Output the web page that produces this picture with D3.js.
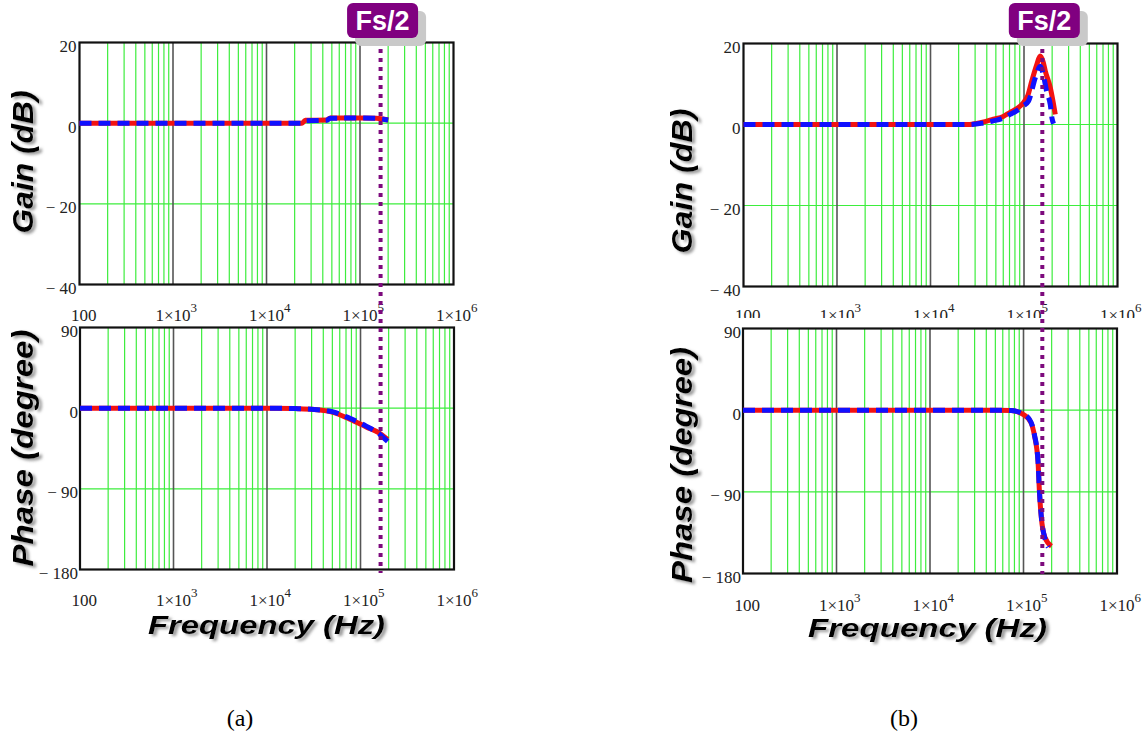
<!DOCTYPE html>
<html>
<head>
<meta charset="utf-8">
<script src="https://cdn.jsdelivr.net/npm/d3@7/dist/d3.min.js"></script>
<style>
body{margin:0;background:#fff;}
svg{display:block;}
</style>
</head>
<body>
<svg id="chart" width="1147" height="746"></svg>
<script>
// axes
const decades = [100, 1e3, 1e4, 1e5, 1e6];
const gainTicks = [20, 0, -20, -40];
const phaseTicks = [90, 0, -90, -180];

// (a) Fs/2 and responses
const fsHalfA = 1.66e5;
const gainFreqA = [100, 1e3, 1e4, 2.4e4, 2.6e4, 4.4e4, 4.8e4, 1e5, 1.5e5, 2e5];
const gainRedA = [0, 0, 0, 0, 0.7, 0.8, 1.3, 1.3, 1.2, 0.8];
const gainBlueA = [0, 0, 0, 0, 0.6, 0.7, 1.2, 1.3, 1.2, 0.8];
const phaseFreqA = [100, 1e3, 1e4, 2e4, 3.2e4, 5.1e4, 7.6e4, 1.15e5, 1.6e5, 1.95e5];
const phaseRedA = [0, 0, 0, -0.5, -1.5, -4.6, -12, -21, -28, -35];
const phaseBlueA = [0, 0, 0, -0.5, -1.5, -4.2, -11, -20, -29, -37];

// (b)
const fsHalfB = 1.57e5;
const gainFreqRedB = [100, 1e3, 1e4, 2.5e4, 3.5e4, 4.7e4, 6e4, 7.1e4, 8.5e4, 9.8e4, 1.1e5, 1.21e5, 1.37e5, 1.49e5, 1.6e5, 1.69e5, 1.91e5, 2.04e5, 2.16e5];
const gainRedB = [0, 0, 0, 0, 0.5, 1.3, 2.0, 3.0, 4.0, 5.3, 7.2, 10.7, 14.8, 16.9, 15.5, 13.2, 9.1, 5.8, 2.5];
const gainFreqBlueB = [100, 1e3, 1e4, 2.5e4, 3.5e4, 4.7e4, 6e4, 7.1e4, 8.5e4, 9.8e4, 1.12e5, 1.32e5, 1.49e5, 1.6e5, 1.76e5, 1.91e5, 1.99e5, 2.07e5];
const gainBlueB = [0, 0, 0, 0, 0.3, 0.9, 1.6, 2.5, 3.5, 4.6, 5.8, 11.5, 14.4, 12.5, 7.8, 4.9, 1.6, 0.2];
const phaseFreqRedB = [100, 1e3, 1e4, 5e4, 7.4e4, 9.9e4, 1.2e5, 1.31e5, 1.43e5, 1.48e5, 1.55e5, 1.69e5, 1.99e5];
const phaseRedB = [0, 0, 0, 0, -0.5, -4.6, -13.6, -28, -57, -89.6, -118, -140, -150];
const phaseFreqBlueB = [100, 1e3, 1e4, 5e4, 7.4e4, 9.9e4, 1.2e5, 1.31e5, 1.43e5, 1.48e5, 1.55e5, 1.69e5, 1.84e5];
const phaseBlueB = [0, 0, 0, 0, -0.5, -4.0, -13, -27, -56, -89, -117, -141, -151];

const svg = d3.select("#chart");

let defs = svg.append("defs");
defs.append("filter").attr("id", "shadow")
  .attr("x", "-20%").attr("y", "-20%").attr("width", "140%").attr("height", "140%")
  .append("feDropShadow")
  .attr("dx", 3).attr("dy", 2).attr("stdDeviation", 1.6)
  .attr("flood-color", "#777").attr("flood-opacity", 0.75);
defs.append("clipPath").attr("id", "clipTopB")
  .append("rect").attr("x", 0).attr("y", 0).attr("width", 1147).attr("height", 318);

function isDecade(d){
  let l = Math.log10(d);
  return Math.abs(l - Math.round(l)) < 1e-9;
}

function fmtY(d){
  return d < 0 ? "\u2212 " + Math.abs(d) : "" + d;
}

function drawPanel(o){
  let x = d3.scaleLog().domain([100, 1e6]).range([o.left, o.right]);
  let y = d3.scaleLinear().domain([o.ticks[0], o.ticks[o.ticks.length - 1]]).range([o.top, o.bottom]);
  let g = svg.append("g");

  // green log grid
  g.selectAll(".vgrid")
    .data(x.ticks().filter(function(d){ return !isDecade(d); }))
    .enter().append("line")
    .attr("x1", function(d){ return x(d); })
    .attr("x2", function(d){ return x(d); })
    .attr("y1", o.top).attr("y2", o.bottom)
    .attr("stroke", "#3ded3d").attr("stroke-width", 1.2);

  g.selectAll(".hgrid")
    .data(o.ticks.slice(1, -1))
    .enter().append("line")
    .attr("x1", o.left).attr("x2", o.right)
    .attr("y1", function(d){ return y(d); })
    .attr("y2", function(d){ return y(d); })
    .attr("stroke", "#3ded3d").attr("stroke-width", 1.2);

  g.selectAll(".dgrid")
    .data(decades.slice(1, -1))
    .enter().append("line")
    .attr("x1", function(d){ return x(d); })
    .attr("x2", function(d){ return x(d); })
    .attr("y1", o.top).attr("y2", o.bottom)
    .attr("stroke", "#555").attr("stroke-width", 1.6);

  g.append("rect")
    .attr("x", o.left).attr("y", o.top)
    .attr("width", o.right - o.left).attr("height", o.bottom - o.top)
    .attr("fill", "none").attr("stroke", "#111").attr("stroke-width", 2.2);

  // y labels
  let ya = g.append("g")
    .attr("transform", "translate(" + o.left + ",0)")
    .call(d3.axisLeft(y).tickValues(o.ticks).tickSize(0).tickPadding(o.yPad).tickFormat(fmtY));
  ya.select(".domain").remove();
  ya.selectAll("text")
    .attr("dy", "0.52em")
    .style("font-family", "'Liberation Serif', 'Times New Roman', serif")
    .style("font-size", "17px").style("fill", "#222");

  // x labels (outer group holds the clip so it stays in page coordinates)
  let xw = g.append("g");
  if(o.clip) xw.attr("clip-path", "url(#" + o.clip + ")");
  let xa = xw.append("g")
    .attr("transform", "translate(0," + (o.bottom + o.xOff) + ")")
    .call(d3.axisBottom(x).tickValues(decades).tickSize(0).tickFormat(""));
  xa.select(".domain").remove();
  xa.selectAll(".tick").each(function(d){
    let t = d3.select(this).append("text")
      .attr("y", 0).attr("fill", "#222")
      .style("font-family", "'Liberation Serif', 'Times New Roman', serif")
      .style("font-size", "17px")
      .attr("text-anchor", "start");
    if(d === 100){
      t.attr("x", -9).text("100");
    } else {
      t.attr("x", -18);
      t.append("tspan").text("1\u00d710");
      t.append("tspan").attr("dy", -9).style("font-size", "13px").text(Math.round(Math.log10(d)));
    }
  });

  // curves
  let line = d3.line()
    .curve(d3.curveMonotoneX)
    .x(function(d){ return x(d[0]); })
    .y(function(d){ return y(d[1]); });

  o.series.forEach(function(s){
    g.append("path")
      .datum(d3.zip(s.f, s.v))
      .attr("d", line)
      .attr("fill", "none")
      .attr("stroke", s.color)
      .attr("stroke-width", 5)
      .attr("stroke-dasharray", s.dash)
      .attr("stroke-linejoin", "round");
  });

  return x;
}

function axisTitle(text, cx, cy, len, rotate, size){
  let g = svg.append("g").attr("filter", "url(#shadow)");
  g.append("text")
    .attr("transform", "translate(" + cx + "," + cy + ")" + (rotate ? " rotate(-90)" : ""))
    .attr("text-anchor", "middle")
    .attr("textLength", len)
    .attr("lengthAdjust", "spacingAndGlyphs")
    .style("font-family", "'Liberation Sans', Arial, sans-serif")
    .style("font-weight", "bold").style("font-style", "italic")
    .style("font-size", size + "px").style("fill", "#000")
    .text(text);
}

function fsMarker(x, fs, y1, y2){
  let px = x(fs);
  svg.append("line")
    .attr("x1", px).attr("x2", px).attr("y1", y1).attr("y2", y2)
    .attr("stroke", "#7d0a7d").attr("stroke-width", 4)
    .attr("stroke-dasharray", "4,5");
  svg.append("rect")
    .attr("x", px - 33.5 + 8).attr("y", 3 + 8)
    .attr("width", 71).attr("height", 35).attr("rx", 6)
    .attr("fill", "#c9c9c9");
  svg.append("rect")
    .attr("x", px - 33.5).attr("y", 3)
    .attr("width", 71).attr("height", 35).attr("rx", 6)
    .attr("fill", "#800080");
  svg.append("text")
    .attr("x", px + 2).attr("y", 30)
    .attr("text-anchor", "middle")
    .style("font-family", "'Liberation Sans', Arial, sans-serif")
    .style("font-weight", "bold").style("font-size", "27px")
    .style("fill", "#fff")
    .text("Fs/2");
}

// (a)
let xA = drawPanel({left: 79.5, right: 453.5, top: 42.5, bottom: 284.5, ticks: gainTicks, yPad: 3, xOff: 36,
  series: [{f: gainFreqA, v: gainRedA, color: "#f21212", dash: null},
           {f: gainFreqA, v: gainBlueA, color: "#1010ff", dash: "12,7"}]});
drawPanel({left: 80, right: 454, top: 327.5, bottom: 569.5, ticks: phaseTicks, yPad: 2, xOff: 36,
  series: [{f: phaseFreqA, v: phaseRedA, color: "#f21212", dash: null},
           {f: phaseFreqA, v: phaseBlueA, color: "#1010ff", dash: "12,7"}]});

// (b)
let xB = drawPanel({left: 743.5, right: 1117.5, top: 43.5, bottom: 286.5, ticks: gainTicks, yPad: 3, xOff: 34, clip: "clipTopB",
  series: [{f: gainFreqRedB, v: gainRedB, color: "#f21212", dash: null},
           {f: gainFreqBlueB, v: gainBlueB, color: "#1010ff", dash: "12,7"}]});
drawPanel({left: 743, right: 1117, top: 328.5, bottom: 573.5, ticks: phaseTicks, yPad: 2, xOff: 37,
  series: [{f: phaseFreqRedB, v: phaseRedB, color: "#f21212", dash: null},
           {f: phaseFreqBlueB, v: phaseBlueB, color: "#1010ff", dash: "12,7"}]});

axisTitle("Gain (dB)", 33, 162, 143, true, 29);
axisTitle("Phase (degree)", 33, 448, 237, true, 29);
axisTitle("Frequency (Hz)", 266.5, 634, 237, false, 26);
axisTitle("Gain (dB)", 692, 181, 145, true, 29);
axisTitle("Phase (degree)", 692, 465, 236, true, 29);
axisTitle("Frequency (Hz)", 927.5, 637, 239, false, 26);

fsMarker(xA, fsHalfA, 40, 573);
fsMarker(xB, fsHalfB, 40, 574);

svg.append("text").attr("x", 240).attr("y", 726).attr("text-anchor", "middle")
  .style("font-family", "'Liberation Serif', 'Times New Roman', serif").style("font-size", "24px")
  .text("(a)");
svg.append("text").attr("x", 904).attr("y", 726).attr("text-anchor", "middle")
  .style("font-family", "'Liberation Serif', 'Times New Roman', serif").style("font-size", "24px")
  .text("(b)");
</script>
</body>
</html>
